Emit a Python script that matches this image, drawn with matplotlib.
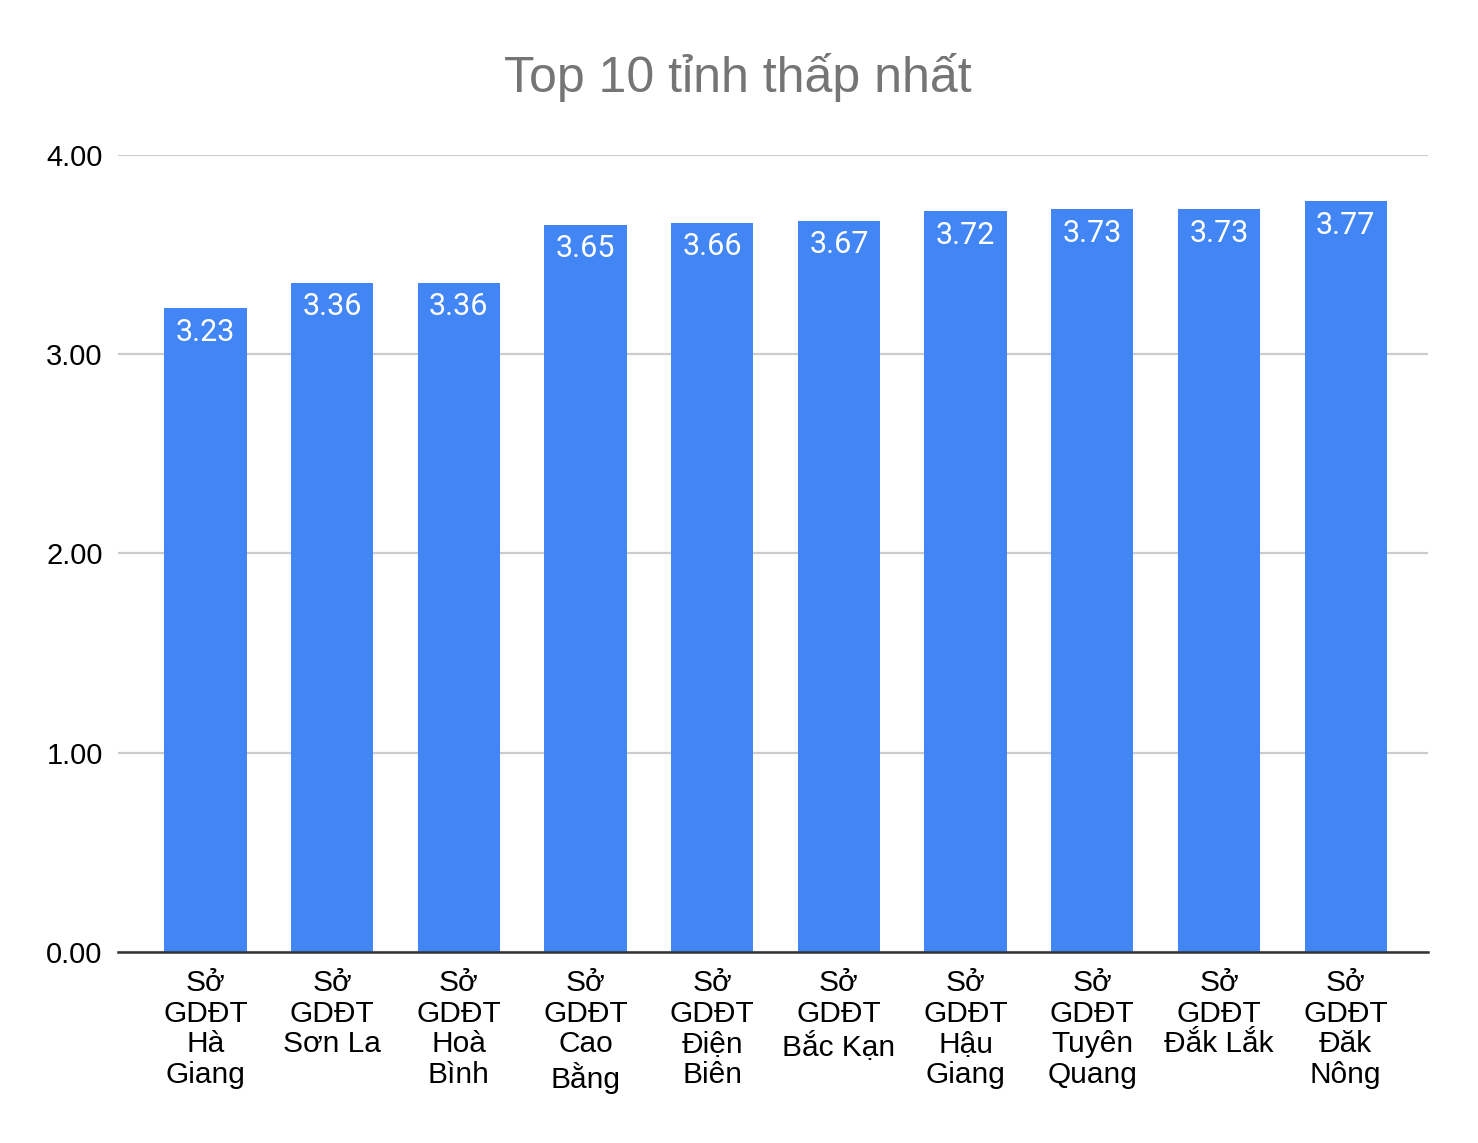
import matplotlib
matplotlib.use('Agg')
import matplotlib.pyplot as plt

# Data
provinces = [
    "Sở\nGDĐT\nHà\nGiang",
    "Sở\nGDĐT\nSơn La",
    "Sở\nGDĐT\nHoà\nBình",
    "Sở\nGDĐT\nCao\nBằng",
    "Sở\nGDĐT\nĐiện\nBiên",
    "Sở\nGDĐT\nBắc Kạn",
    "Sở\nGDĐT\nHậu\nGiang",
    "Sở\nGDĐT\nTuyên\nQuang",
    "Sở\nGDĐT\nĐắk Lắk",
    "Sở\nGDĐT\nĐăk\nNông",
]
scores = [3.23, 3.36, 3.36, 3.65, 3.66, 3.67, 3.72, 3.73, 3.73, 3.77]
yticks = [0, 1, 2, 3, 4]

plt.rcParams['font.family'] = ['Liberation Sans', 'DejaVu Sans']

fig = plt.figure(figsize=(14.78, 11.43), dpi=100)
ax = fig.add_axes([0.0798, 0.1671, 0.8864, 0.6973])

x = range(len(scores))
bars = ax.bar(x, scores, width=0.65, color='#4285F4', zorder=3)

for rect, v in zip(bars, scores):
    ax.annotate(f"{v:.2f}", (rect.get_x() + rect.get_width() / 2, v),
                xytext=(0, -7), textcoords='offset points',
                ha='center', va='top', color='white', fontsize=22,
                family=['Roboto', 'DejaVu Sans'], zorder=4)

ax.set_ylim(0, 4)
ax.set_xlim(-0.69, 9.65)
ax.set_yticks(yticks)
ax.set_yticklabels([f"{t:.2f}" for t in yticks], fontsize=21)
ax.set_xticks(list(x))
ax.set_xticklabels(provinces, fontsize=21.5, linespacing=1.13, va='top')
ax.tick_params(axis='both', length=0, colors='black')
ax.tick_params(axis='y', pad=11)
ax.tick_params(axis='x', pad=12)

ax.grid(axis='y', color='#cccccc', linewidth=1.6, zorder=0)
for s in ['top', 'right', 'left']:
    ax.spines[s].set_visible(False)
ax.spines['bottom'].set_color('#333333')
ax.spines['bottom'].set_linewidth(1.8)
ax.spines['bottom'].set_zorder(5)

fig.text(0.499, 0.932, "Top 10 tỉnh thấp nhất", ha='center', va='center',
         fontsize=36, color='#757575')

fig.savefig('out.png', dpi=100)
